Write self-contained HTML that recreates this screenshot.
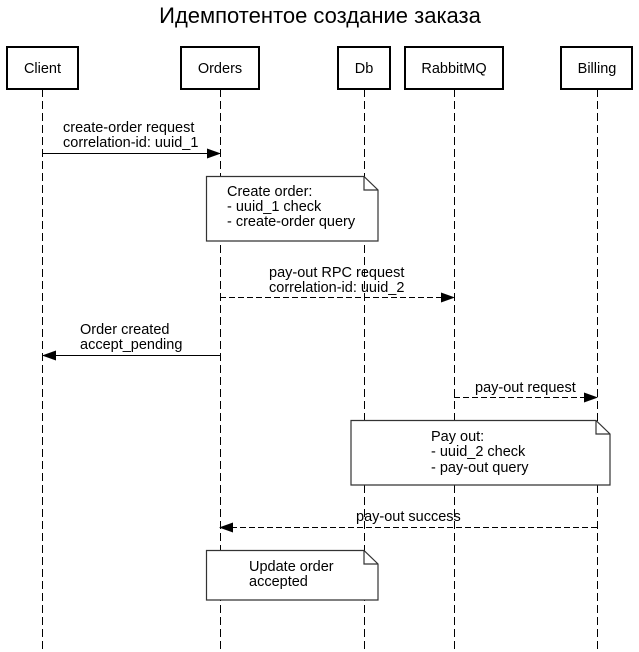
<!DOCTYPE html>
<html><head><meta charset="utf-8"><style>
html,body{margin:0;padding:0;background:#fff;}
svg{display:block;}
text{font-family:"Liberation Sans","Noto Sans CJK SC",sans-serif;font-size:14.5px;fill:#000;}
</style></head><body>
<svg width="639" height="652" viewBox="0 0 639 652" xmlns="http://www.w3.org/2000/svg">
<defs>
<marker id="a" markerWidth="14" markerHeight="10" refX="13" refY="5" orient="auto" markerUnits="userSpaceOnUse">
<path d="M0,0 L14,5 L0,10 Z" fill="#000"/></marker>
</defs>
<text x="320" y="23" text-anchor="middle" style="font-size:22px">Идемпотентое создание заказа</text>
<g stroke="#000" stroke-width="1" stroke-dasharray="8,4" fill="none">
<line x1="42.5" y1="89" x2="42.5" y2="652"/>
<line x1="220.5" y1="89" x2="220.5" y2="652"/>
<line x1="364.5" y1="89" x2="364.5" y2="652"/>
<line x1="454.5" y1="89" x2="454.5" y2="652"/>
<line x1="597.5" y1="89" x2="597.5" y2="652"/>
</g>
<g stroke="#000" stroke-width="2" fill="#fff">
<rect x="7" y="47" width="71" height="42"/>
<rect x="181" y="47" width="78" height="42"/>
<rect x="338" y="47" width="52" height="42"/>
<rect x="405" y="47" width="98" height="42"/>
<rect x="561" y="47" width="71" height="42"/>
</g>
<g text-anchor="middle">
<text x="42.5" y="73">Client</text>
<text x="220" y="73">Orders</text>
<text x="364" y="73">Db</text>
<text x="454" y="73">RabbitMQ</text>
<text x="597" y="73">Billing</text>
</g>
<line x1="43" y1="153.5" x2="220" y2="153.5" stroke="#000" marker-end="url(#a)"/>
<text x="63" y="132">create-order request</text>
<text x="63" y="147">correlation-id: uuid_1</text>

<line x1="220" y1="297.5" x2="454" y2="297.5" stroke="#000" stroke-dasharray="6,3" marker-end="url(#a)"/>
<text x="269" y="277">pay-out RPC request</text>
<text x="269" y="292">correlation-id: uuid_2</text>

<line x1="220" y1="355.5" x2="43" y2="355.5" stroke="#000" marker-end="url(#a)"/>
<text x="80" y="334">Order created</text>
<text x="80" y="349">accept_pending</text>

<line x1="454" y1="397.5" x2="597" y2="397.5" stroke="#000" stroke-dasharray="6,3" marker-end="url(#a)"/>
<text x="475" y="392">pay-out request</text>

<line x1="597" y1="527.5" x2="220" y2="527.5" stroke="#000" stroke-dasharray="6,3" marker-end="url(#a)"/>
<text x="356" y="521">pay-out success</text>

<g stroke="#333" stroke-width="1.2" fill="#fff">
<path d="M206.5,176.5 H364 L378,190 V241 H206.5 Z"/>
<path d="M364,176.5 V190 H378" fill="none"/>
<path d="M351,420.5 H596 L610,434 V485 H351 Z"/>
<path d="M596,420.5 V434 H610" fill="none"/>
<path d="M206.5,550.5 H364 L378,564 V600 H206.5 Z"/>
<path d="M364,550.5 V564 H378" fill="none"/>
</g>
<text x="227" y="196">Create order:</text>
<text x="227" y="211">- uuid_1 check</text>
<text x="227" y="226">- create-order query</text>
<text x="431" y="441">Pay out:</text>
<text x="431" y="456">- uuid_2 check</text>
<text x="431" y="472">- pay-out query</text>
<text x="249" y="571">Update order</text>
<text x="249" y="586">accepted</text>
</svg>
</body></html>
